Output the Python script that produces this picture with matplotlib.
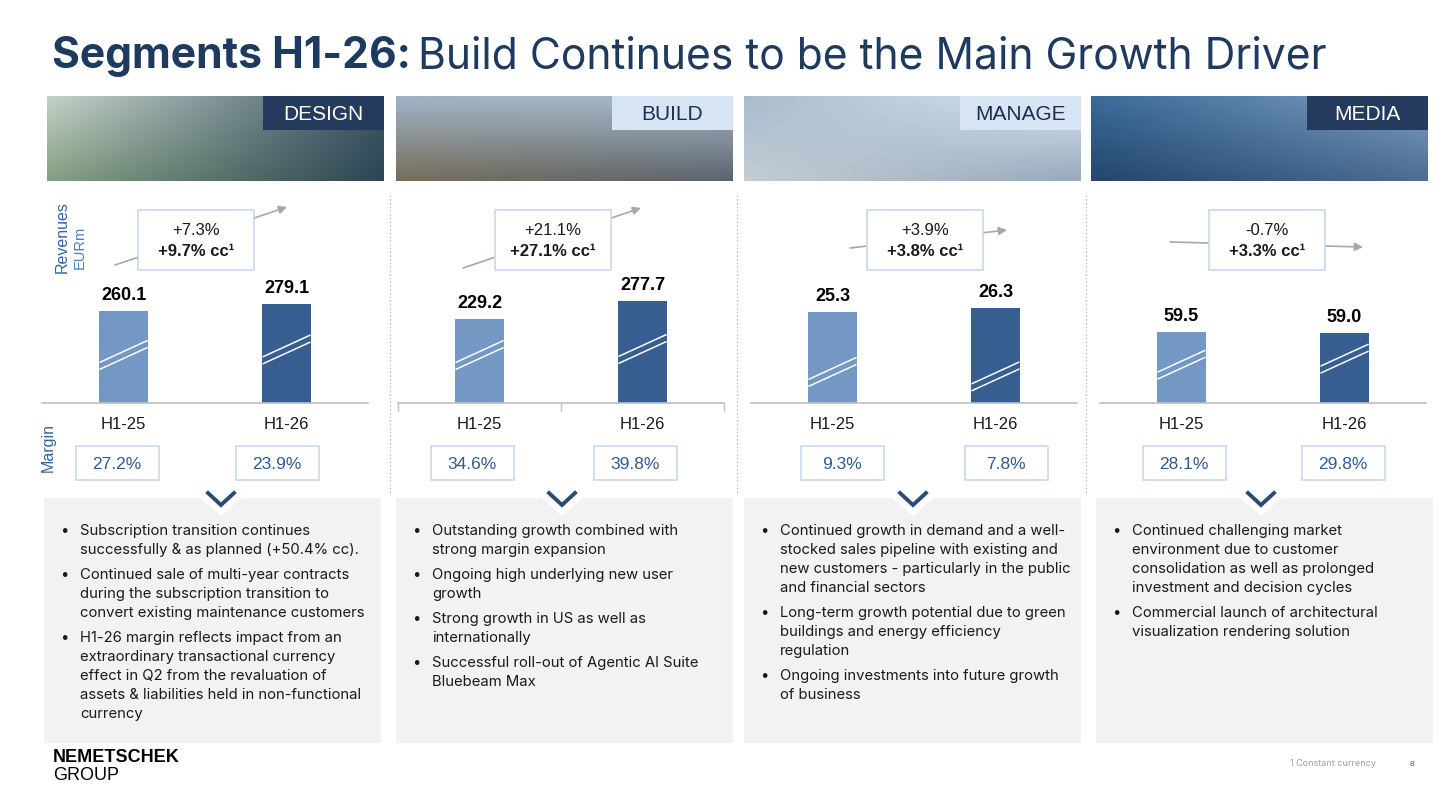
import numpy as np
import matplotlib.pyplot as plt
from matplotlib.patches import Rectangle, Polygon
from matplotlib.colors import to_rgb

# ---- data -------------------------------------------------------------
segments = ["DESIGN", "BUILD", "MANAGE", "MEDIA"]
periods = ["H1-25", "H1-26"]
revenue_h1_25 = [260.1, 229.2, 25.3, 59.5]
revenue_h1_26 = [279.1, 277.7, 26.3, 59.0]
growth_reported = ["+7.3%", "+21.1%", "+3.9%", "-0.7%"]
growth_cc = ["+9.7%", "+27.1%", "+3.8%", "+3.3%"]
margin_h1_25 = [27.2, 34.6, 9.3, 28.1]
margin_h1_26 = [23.9, 39.8, 7.8, 29.8]

bullets_design = [
    ["Subscription transition continues", "successfully & as planned (+50.4% cc)."],
    ["Continued sale of multi-year contracts", "during the subscription transition to",
     "convert existing maintenance customers"],
    ["H1-26 margin reflects impact from an", "extraordinary transactional currency",
     "effect in Q2 from the revaluation of", "assets & liabilities held in non-functional",
     "currency"],
]
bullets_build = [
    ["Outstanding growth combined with", "strong margin expansion"],
    ["Ongoing high underlying new user", "growth"],
    ["Strong growth in US as well as", "internationally"],
    ["Successful roll-out of Agentic AI Suite", "Bluebeam Max"],
]
bullets_manage = [
    ["Continued growth in demand and a well-", "stocked sales pipeline with existing and",
     "new customers - particularly in the public", "and financial sectors"],
    ["Long-term growth potential due to green", "buildings and energy efficiency",
     "regulation"],
    ["Ongoing investments into future growth", "of business"],
]
bullets_media = [
    ["Continued challenging market", "environment due to customer",
     "consolidation as well as prolonged", "investment and decision cycles"],
    ["Commercial launch of architectural", "visualization rendering solution"],
]
bullets = [bullets_design, bullets_build, bullets_manage, bullets_media]

# ---- style / layout (pixels) -------------------------------------------
NAVY = "#1f3a5f"
DARK_LABEL = "#243b5e"
LIGHT_LABEL = "#d6e4f4"
BAR_LIGHT = "#7398c4"
BAR_DARK = "#365e91"
MARGIN_BLUE = "#2e5a94"
BOX_EDGE = "#c6daef"
GREY_BOX = "#f2f2f2"

W, H = 1456, 788
panel_x = [44, 396, 744, 1096]
panel_w = 337
img_x = [47, 396, 744, 1091]
label_dark = [True, False, False, True]
axis_left = [42, 398, 751, 1100]
axis_w = 326
base_y, top_y = 403, 283
ylim_top = [338, 327, 33.2, 100.6]
break_frac = [[0.52, 0.54], [0.57, 0.53], [0.34, 0.28], [0.54, 0.63]]
growth_box_x = [138, 495, 867, 1209]
arrow_pts = [((115, 265), (287, 207)), ((463, 268), (641, 208)),
             ((850, 248), (1007, 230)), ((1170, 242), (1363, 247))]
margin_cx = [[117, 277], [472, 635], [842, 1006], [1184, 1343]]
chevron_x = [221, 562, 913, 1261]
sep_x = [390, 737, 1086]

img_corners = [
    ["#c3d0c8", "#3f5866", "#86a083", "#2c4654"],
    ["#9fb3c6", "#a7b7c5", "#786f5c", "#5d6670"],
    ["#a9bccd", "#d9e5ef", "#c2ccd5", "#98aabb"],
    ["#3b6a98", "#7d9fc2", "#24466e", "#4d6f93"],
]

plt.rcParams['font.family'] = ['Liberation Sans', 'DejaVu Sans']
BODY = ['Inter', 'DejaVu Sans']

fig = plt.figure(figsize=(W / 100, H / 100), dpi=100)
bg = fig.add_axes([0, 0, 1, 1])
bg.set_xlim(0, W)
bg.set_ylim(H, 0)
bg.axis('off')


def px_axes(x0, y0, x1, y1):
    return fig.add_axes([x0 / W, 1 - y1 / H, (x1 - x0) / W, (y1 - y0) / H])


# title
t1 = bg.text(52, 68, "Segments H1-26:", fontsize=30.7, fontweight='bold',
             family=BODY, color=NAVY, va='baseline')
fig.canvas.draw()
bb = t1.get_window_extent()
bg.text(bb.x1 + 7, 68, "Build Continues to be the Main Growth Driver", fontsize=30.7,
        family=BODY, color=NAVY, va='baseline')

for k in range(4):
    # header picture (colour impression) + segment label
    tl, tr, bl, br = [np.array(to_rgb(c)) for c in img_corners[k]]
    u = np.linspace(0, 1, 60)[None, :, None]
    v = np.linspace(0, 1, 20)[:, None, None]
    img = (1 - v) * ((1 - u) * tl + u * tr) + v * ((1 - u) * bl + u * br)
    bg.imshow(img, extent=(img_x[k], img_x[k] + panel_w, 181, 96), aspect='auto',
              interpolation='bilinear', zorder=1)
    lx1 = img_x[k] + panel_w
    bg.add_patch(Rectangle((lx1 - 121, 96), 121, 34,
                           facecolor=DARK_LABEL if label_dark[k] else LIGHT_LABEL,
                           edgecolor='none', zorder=2))
    bg.text(lx1 - 60.5, 114, segments[k], fontsize=15, ha='center', va='center',
            color='white' if label_dark[k] else "#1c2f4f", zorder=3)

    # growth box with arrow behind it
    (sx, sy), (ex, ey) = arrow_pts[k]
    bg.annotate("", xy=(ex, ey), xytext=(sx, sy),
                arrowprops=dict(arrowstyle='-|>', color='#a8a8a8', lw=1.2,
                                mutation_scale=12, shrinkA=0, shrinkB=0), zorder=2)
    gx = growth_box_x[k]
    bg.add_patch(Rectangle((gx, 210), 116, 60, facecolor='white', edgecolor=BOX_EDGE,
                           lw=1.2, zorder=3))
    bg.text(gx + 58, 230, growth_reported[k], fontsize=12, ha='center', va='center',
            color='#1a1a1a', zorder=4)
    bg.text(gx + 58, 251, growth_cc[k] + " cc\u00b9", fontsize=12, ha='center',
            va='center', color='#1a1a1a', fontweight='bold', zorder=4)

    # bars
    ax = px_axes(axis_left[k], top_y, axis_left[k] + axis_w, base_y)
    vals = [revenue_h1_25[k], revenue_h1_26[k]]
    bars = ax.bar([0, 1], vals, width=0.295, color=[BAR_LIGHT, BAR_DARK], zorder=2)
    ax.bar_label(bars, labels=[f"{v:.1f}" for v in vals], padding=5, fontsize=13,
                 fontweight='bold', color='black')
    ax.set_xlim(-0.5, 1.5)
    ax.set_ylim(0, ylim_top[k])
    ax.set_facecolor('none')
    for s in ['top', 'right', 'left']:
        ax.spines[s].set_visible(False)
    ax.spines['bottom'].set_color('#bfbfbf')
    ax.spines['bottom'].set_linewidth(1.2)
    ax.set_yticks([])
    ax.set_xticks([0, 1], periods)
    ax.tick_params(axis='x', length=0, pad=10, labelsize=12, labelcolor='#1a1a1a')
    if k == 1:
        ax.set_xticks([-0.5, 0.5, 1.5], minor=True)
        ax.tick_params(axis='x', which='minor', length=6, color='#bfbfbf', width=1)

    # break marks across bars
    ypp = ylim_top[k] / (base_y - top_y)   # data units per pixel
    for i, v in enumerate(vals):
        yc = break_frac[k][i] * v
        half = 0.295 / 2
        rise = 22 * ypp / 2
        for off in (-3.5 * ypp, 3.5 * ypp):
            ax.plot([i - half, i + half], [yc - rise + off, yc + rise + off],
                    color='white', lw=1.1, zorder=3, solid_capstyle='butt')

    # margin boxes
    for i, m in enumerate([margin_h1_25[k], margin_h1_26[k]]):
        cx = margin_cx[k][i]
        bg.add_patch(Rectangle((cx - 41.5, 446), 83, 34, facecolor='white',
                               edgecolor=BOX_EDGE, lw=1.2, zorder=3))
        bg.text(cx, 464, f"{m:.1f}%", fontsize=12.5, ha='center', va='center',
                color=MARGIN_BLUE, zorder=4)

    # bullet box
    px0 = panel_x[k]
    bg.add_patch(Rectangle((px0, 498), panel_w, 245, facecolor=GREY_BOX,
                           edgecolor='none', zorder=1))
    cx = chevron_x[k]
    bg.add_patch(Polygon([(cx - 22, 497), (cx + 22, 497), (cx, 516)], closed=True,
                         facecolor='white', edgecolor='none', zorder=2))
    bg.plot([cx - 13, cx, cx + 13], [493, 505, 493], color="#2a4a78", lw=2.8,
            solid_joinstyle='miter', zorder=3)
    y = 531
    for item in bullets[k]:
        bg.text(px0 + 16, y, "\u2022", fontsize=10.7, va='center', ha='left',
                color='#1a1a1a', family=BODY, zorder=3)
        for line in item:
            bg.text(px0 + 36, y, line, fontsize=10.7, va='center', ha='left',
                    color='#1a1a1a', family=BODY, zorder=3)
            y += 19
        y += 6

# dotted separators
for x in sep_x:
    bg.plot([x, x], [195, 495], color='#b0b0b0', lw=0.9, ls=(0, (1, 2)), zorder=1)

# axis captions
bg.text(62, 237, "Revenues", rotation=90, fontsize=11.5, color='#2f65a5',
        ha='center', va='center')
bg.text(80, 247, "EURm", rotation=90, fontsize=10.5, color='#4a7fbf',
        ha='center', va='center')
bg.text(48, 447, "Margin", rotation=90, fontsize=11.5, color='#2f65a5',
        ha='center', va='center')

# footer
bg.text(53, 757, "NEMETSCHEK", fontsize=13, fontweight='bold', color='black',
        va='center')
bg.text(53, 776, "GROUP", fontsize=13, color='black', va='center')
bg.text(1290, 764, "1 Constant currency", fontsize=6.5, color='#a0a0a0',
        va='center', family=BODY)
bg.text(1410, 765, "8", fontsize=6, color='#505a6a', va='center')

bg.set_xlim(0, W)
bg.set_ylim(H, 0)
fig.savefig("out.png", dpi=100)
